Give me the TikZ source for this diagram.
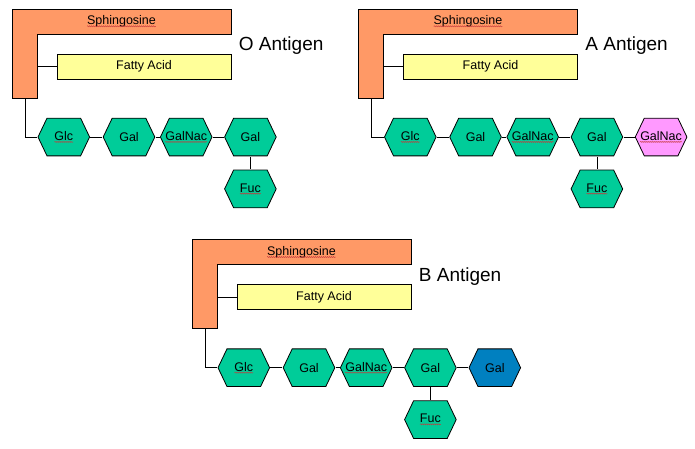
\documentclass[tikz,border=0pt]{standalone}
\usepackage{fontspec}
\setmainfont{Liberation Sans}
\usetikzlibrary{positioning,decorations.pathmorphing}

\definecolor{sugar}{HTML}{00CC99}
\definecolor{sphingo}{HTML}{FF9966}
\definecolor{fatty}{HTML}{FFFF99}
\definecolor{galnacA}{HTML}{FF99FF}
\definecolor{galB}{HTML}{0080C0}

\tikzset{
  hexa/.style={rectangle, minimum width=52.6pt, minimum height=38.7pt,
    inner sep=0pt, font=\fontsize{12.5}{14}\selectfont,
    path picture={\draw[fill=#1]
      ([xshift=0.5pt]path picture bounding box.west)
      -- ([xshift=9.5pt,yshift=-0.5pt]path picture bounding box.north west)
      -- ([xshift=-9.5pt,yshift=-0.5pt]path picture bounding box.north east)
      -- ([xshift=-0.5pt]path picture bounding box.east)
      -- ([xshift=-9.5pt,yshift=0.5pt]path picture bounding box.south east)
      -- ([xshift=9.5pt,yshift=0.5pt]path picture bounding box.south west)
      -- cycle;}},
  hexa/.default=sugar,
  fattybox/.style={rectangle, draw, fill=fatty, minimum width=174pt,
    minimum height=25pt, inner sep=0pt, font=\fontsize{12.5}{14}\selectfont},
  lbl/.style={inner sep=0pt, font=\fontsize{12.5}{14}\selectfont},
  title/.style={inner sep=0pt, font=\fontsize{19}{21}\selectfont},
  sphingobar/.style={draw, fill=sphingo},
  spellline/.style={draw=red!55!gray, line width=0.4pt,
    decorate, decoration={snake, amplitude=0.6pt, segment length=2pt}}
}

% wavy spell-check underline
\newcommand{\spell}[1]{\tikz[baseline=(w.base)]{\node[shape=rectangle,
  draw=none, fill=none, inner sep=0pt, outer sep=0pt, minimum size=0pt] (w) {#1};
  \draw[spellline] ([yshift=-1.6pt]w.base west) -- ([yshift=-1.6pt]w.base east);}}

% lipid tail plus the common sugar chain
\newcommand{\lipid}[3]{%
  \begin{scope}[shift={#2}]
    \draw[sphingobar] (12,9) -- (231,9) -- (231,34) -- (37,34) -- (37,98) -- (12,98) -- cycle;
    \node[lbl] (#1sph) at (121.5,21.5) {\spell{Sphingosine}};
    \node[fattybox] (#1fa) at (144,66.5) {Fatty Acid};
    \coordinate (#1knee) at (37,66.5);
    \coordinate (#1stem) at (25,98);
    \node[hexa] (#1glc) at (63.8,137) {\spell{Glc}};
    \node[hexa, right=12pt of #1glc] (#1gal) {Gal};
    \node[hexa, right=4pt of #1gal] (#1galnac) {\spell{GalNac}};
    \node[hexa, right=11pt of #1galnac] (#1galb) {Gal};
    \node[hexa, below=12.6pt of #1galb] (#1fuc) {\spell{Fuc}};
    \node[title, anchor=west] (#1name) at (238.5,45.5) {#3 Antigen};
    \draw (#1knee) -- (#1fa);
    \draw (#1stem) |- (#1glc);
    \draw (#1glc) -- (#1gal) (#1gal) -- (#1galnac) (#1galnac) -- (#1galb)
          (#1galb) -- (#1fuc);
  \end{scope}}

\begin{document}
\begin{tikzpicture}[x=1pt,y=-1pt,line width=0.8pt]
  \useasboundingbox (0,0) rectangle (695,448);

  \lipid{O}{(0,0)}{O}
  \lipid{A}{(346.5,0)}{A}
  \lipid{B}{(180,230.7)}{B}

  % extra terminal sugars
  \node[hexa=galnacA, right=11pt of Agalb] (Aend) {\spell{GalNac}};
  \node[hexa=galB, right=11pt of Bgalb] (Bend) {Gal};
  \draw (Agalb) -- (Aend);
  \draw (Bgalb) -- (Bend);
\end{tikzpicture}
\end{document}
